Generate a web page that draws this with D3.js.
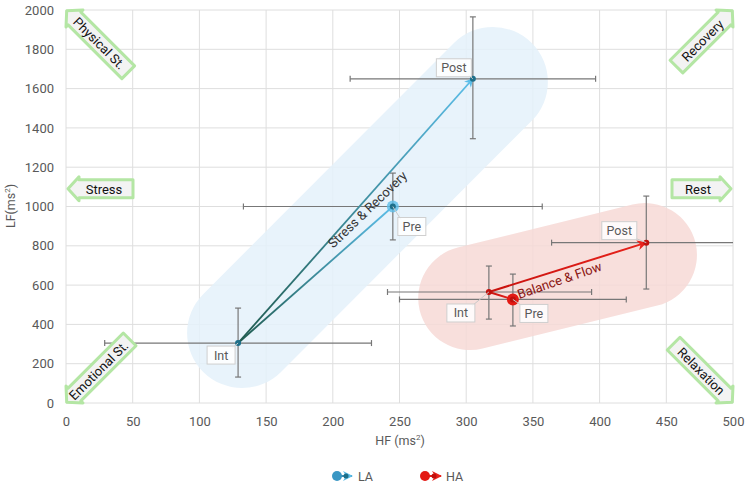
<!DOCTYPE html>
<html>
<head>
<meta charset="utf-8">
<script src="https://cdn.jsdelivr.net/npm/d3@7"></script>
<style>
  body { margin: 0; background: #fff; }
  text { font-family: Roboto, "Noto Sans", sans-serif; }
</style>
</head>
<body>
<svg width="750" height="484"></svg>
<script>
// phases of the study
const phases = ["Pre", "Int", "Post"];

// LA group
const laHF = [245, 129, 305];
const laLF = [1000, 305, 1650];
const laHFErr = [[133, 357], [29, 229], [213, 397]];
const laLFErr = [[830, 1170], [132, 483], [1345, 1965]];

// HA group
const haHF = [335, 317, 435];
const haLF = [527, 565, 816];
const haHFErr = [[250, 420], [241, 394], [364, 510]];
const haLFErr = [[392, 656], [427, 697], [580, 1053]];

// ticks
const xTicks = d3.range(0, 501, 50);
const yTicks = d3.range(0, 2001, 200);

// zones (centre line of the shaded bands, in data units)
const bands = [
  { from: [132, 356], to: [320, 1634], fill: "#e5f2fb", r: 55 },
  { from: [303, 534], to: [434, 753], fill: "#f7dad7", r: 52 }
];

// corner arrows
const corners = [
  { label: "Physical St.", tip: [0, 2000], dir: 45, len: 88, at: 47 },
  { label: "Recovery", tip: [500, 2000], dir: 135, len: 80, at: 43 },
  { label: "Stress", tip: [0, 1090], dir: 0, len: 67, at: 38 },
  { label: "Rest", tip: [500, 1090], dir: 180, len: 61, at: 35 },
  { label: "Emotional St.", tip: [0, 0], dir: -45, len: 90, at: 46 },
  { label: "Relaxation", tip: [500, 0], dir: -135, len: 84, at: 45 }
];

const svg = d3.select("svg");
const x = d3.scaleLinear().domain([0, 500]).range([66, 733]);
const y = d3.scaleLinear().domain([0, 2000]).range([403, 10]);

const defs = svg.append("defs");
defs.append("clipPath").attr("id", "plot")
  .append("rect").attr("x", 66).attr("y", 10).attr("width", 667).attr("height", 393);

// grid
svg.append("g").selectAll("line").data(xTicks).join("line")
  .attr("x1", d => x(d)).attr("x2", d => x(d))
  .attr("y1", y(0)).attr("y2", y(2000))
  .attr("stroke", "#dedede").attr("stroke-width", 1);
svg.append("g").selectAll("line").data(yTicks).join("line")
  .attr("x1", x(0)).attr("x2", x(500))
  .attr("y1", d => y(d)).attr("y2", d => y(d))
  .attr("stroke", "#dedede").attr("stroke-width", 1);

// axes labels
const xAxis = svg.append("g").attr("transform", `translate(0,${y(0)})`)
  .call(d3.axisBottom(x).tickValues(xTicks).tickSize(0).tickPadding(14));
const yAxis = svg.append("g").attr("transform", `translate(${x(0)},0)`)
  .call(d3.axisLeft(y).tickValues(yTicks).tickSize(0).tickPadding(12).tickFormat(d3.format("d")));
[xAxis, yAxis].forEach(a => {
  a.select(".domain").remove();
  a.selectAll("text").attr("font-size", 13).attr("fill", "#595959")
    .style("font-family", "Roboto, sans-serif");
});

const xt = svg.append("text").attr("x", 400).attr("y", 445).attr("text-anchor", "middle")
  .attr("font-size", 12.5).attr("fill", "#595959").text("HF (ms");
xt.append("tspan").attr("font-size", 8).attr("dy", -5).text("2");
xt.append("tspan").attr("dy", 5).text(")");

const yt = svg.append("text").attr("transform", "translate(15,206) rotate(-90)")
  .attr("text-anchor", "middle").attr("font-size", 12.5).attr("fill", "#595959").text("LF(ms");
yt.append("tspan").attr("font-size", 8).attr("dy", -5).text("2");
yt.append("tspan").attr("dy", 5).text(")");

// shaded bands
const plot = svg.append("g").attr("clip-path", "url(#plot)");
plot.selectAll("line.band").data(bands).join("line")
  .attr("class", "band")
  .attr("x1", d => x(d.from[0])).attr("y1", d => y(d.from[1]))
  .attr("x2", d => x(d.to[0])).attr("y2", d => y(d.to[1]))
  .attr("stroke", d => d.fill).attr("stroke-width", d => d.r * 2)
  .attr("stroke-linecap", "round").attr("opacity", 0.85);

// corner arrows
const h = 11;
corners.forEach(c => {
  const g = svg.append("g")
    .attr("transform", `translate(${x(c.tip[0])},${y(c.tip[1])}) rotate(${c.dir})`);
  const L = c.len;
  const inset = Math.abs(c.dir % 90) === 45 ? 1 : 2;
  g.append("path")
    .attr("d", `M${inset},0 L${h + inset},-12 L${h + inset},-9 L${L},-9 L${L},9 L${h + inset},9 L${h + inset},12 Z`)
    .attr("fill", "#f3f3f3").attr("stroke", "#b4e6a4").attr("stroke-width", 3)
    .attr("stroke-linejoin", "round");
  const flip = Math.abs(c.dir) > 90 ? 180 : 0;
  g.append("text")
    .attr("transform", `translate(${c.at},0) rotate(${flip})`)
    .attr("text-anchor", "middle").attr("dy", "0.36em")
    .attr("font-size", 13).attr("fill", "#111").text(c.label);
});

// error bars
function errorBars(hf, lf, hfErr, lfErr) {
  const g = plot.append("g").attr("stroke", "#777").attr("stroke-width", 1.2);
  phases.forEach((p, i) => {
    const cx = x(hf[i]), cy = y(lf[i]);
    const x0 = x(hfErr[i][0]), x1 = x(hfErr[i][1]);
    const y0 = y(lfErr[i][0]), y1 = y(lfErr[i][1]);
    g.append("line").attr("x1", x0).attr("x2", x1).attr("y1", cy).attr("y2", cy);
    g.append("line").attr("x1", cx).attr("x2", cx).attr("y1", y0).attr("y2", y1);
    [x0, x1].forEach(v => g.append("line").attr("x1", v).attr("x2", v).attr("y1", cy - 3).attr("y2", cy + 3));
    [y0, y1].forEach(v => g.append("line").attr("x1", cx - 3).attr("x2", cx + 3).attr("y1", v).attr("y2", v));
  });
}
errorBars(laHF, laLF, laHFErr, laLFErr);
errorBars(haHF, haLF, haHFErr, haLFErr);

// arrow heads
function marker(id, color) {
  defs.append("marker").attr("id", id)
    .attr("viewBox", "0 0 10 10").attr("refX", 9).attr("refY", 5)
    .attr("markerWidth", 5).attr("markerHeight", 5).attr("orient", "auto")
    .append("path").attr("d", "M0,0 L10,5 L0,10 L3,5 Z").attr("fill", color);
}
marker("arrLA", "#5bbde8");
marker("arrHA", "#e8231c");

// gradient segments
function grad(id, p0, p1, c0, c1) {
  const gr = defs.append("linearGradient").attr("id", id)
    .attr("gradientUnits", "userSpaceOnUse")
    .attr("x1", p0[0]).attr("y1", p0[1]).attr("x2", p1[0]).attr("y2", p1[1]);
  gr.append("stop").attr("offset", 0).attr("stop-color", c0);
  gr.append("stop").attr("offset", 1).attr("stop-color", c1);
}

function series(name, hf, lf, c0, c1, w) {
  const pts = phases.map((p, i) => [x(hf[i]), y(lf[i])]);
  grad(name + "g1", pts[0], pts[1], c0, c1);
  grad(name + "g2", pts[1], pts[2], c1, c0);
  const g = svg.append("g");
  g.append("line").attr("x1", pts[0][0]).attr("y1", pts[0][1]).attr("x2", pts[1][0]).attr("y2", pts[1][1])
    .attr("stroke", `url(#${name}g1)`).attr("stroke-width", w);
  g.append("line").attr("x1", pts[1][0]).attr("y1", pts[1][1]).attr("x2", pts[2][0]).attr("y2", pts[2][1])
    .attr("stroke", `url(#${name}g2)`).attr("stroke-width", w)
    .attr("marker-end", `url(#arr${name})`);
  return { g, pts };
}

const la = series("LA", laHF, laLF, "#5bbde8", "#1f5a4e", 1.8);
la.g.append("circle").attr("cx", la.pts[0][0]).attr("cy", la.pts[0][1]).attr("r", 6)
  .attr("fill", "#5bbde8").attr("opacity", 0.8);
la.g.selectAll("circle.m").data(la.pts).join("circle").attr("class", "m")
  .attr("cx", d => d[0]).attr("cy", d => d[1]).attr("r", 3).attr("fill", "#1d6f8a");

const ha = series("HA", haHF, haLF, "#e8231c", "#c8120e", 2);
ha.g.append("circle").attr("cx", ha.pts[0][0]).attr("cy", ha.pts[0][1]).attr("r", 6)
  .attr("fill", "#e31a14");
ha.g.selectAll("circle.m").data(ha.pts).join("circle").attr("class", "m")
  .attr("cx", d => d[0]).attr("cy", d => d[1]).attr("r", 3).attr("fill", "#c0100c");

// zone titles
svg.append("text").attr("transform", `translate(${x(226)},${y(985)}) rotate(-44)`)
  .attr("text-anchor", "middle").attr("dy", "0.35em")
  .attr("font-size", 13).attr("fill", "#333").text("Stress & Recovery");
svg.append("text").attr("transform", `translate(${x(370)},${y(625)}) rotate(-19)`)
  .attr("text-anchor", "middle").attr("dy", "0.35em")
  .attr("font-size", 13).attr("fill", "#8b1512").text("Balance & Flow");

// callout labels (offset of the box centre from the point, px)
const calloutOffsets = {
  LA: [[19, 20], [-17, 12], [-19, -11]],
  HA: [[21, 14], [-28, 21], [-27, -12]]
};
function callouts(name, pts) {
  const g = svg.append("g");
  phases.forEach((p, i) => {
    const [cx, cy] = pts[i];
    const [dx, dy] = calloutOffsets[name][i];
    const bx = cx + dx, by = cy + dy;
    const w = p.length * 7 + 7, hh = 18;
    g.append("line").attr("x1", cx).attr("y1", cy)
      .attr("x2", bx - Math.sign(dx) * (w / 2 - 3)).attr("y2", by - Math.sign(dy) * (hh / 2 - 2))
      .attr("stroke", "#c8c8c8").attr("stroke-width", 1);
    g.append("rect").attr("x", bx - w / 2).attr("y", by - hh / 2).attr("width", w).attr("height", hh)
      .attr("fill", "#fff").attr("fill-opacity", 0.85).attr("stroke", "#cfcfcf");
    g.append("text").attr("x", bx).attr("y", by).attr("dy", "0.36em").attr("text-anchor", "middle")
      .attr("font-size", 12.5).attr("fill", "#595959").text(p);
  });
}
callouts("LA", la.pts);
callouts("HA", ha.pts);

// legend
const leg = svg.append("g").attr("transform", "translate(0,476)");
leg.append("line").attr("x1", 337).attr("x2", 352).attr("y1", 0).attr("y2", 0)
  .attr("stroke", "#3a8fb8").attr("stroke-width", 2).attr("marker-end", "url(#arrLA)");
leg.append("circle").attr("cx", 337).attr("cy", 0).attr("r", 5).attr("fill", "#3a97c4");
leg.append("circle").attr("cx", 346).attr("cy", 0).attr("r", 2.5).attr("fill", "#1d6f8a");
leg.append("text").attr("x", 358).attr("y", 0).attr("dy", "0.36em")
  .attr("font-size", 12.5).attr("fill", "#595959").text("LA");
leg.append("line").attr("x1", 425).attr("x2", 441).attr("y1", 0).attr("y2", 0)
  .attr("stroke", "#e8231c").attr("stroke-width", 2).attr("marker-end", "url(#arrHA)");
leg.append("circle").attr("cx", 425).attr("cy", 0).attr("r", 5).attr("fill", "#e31a14");
leg.append("circle").attr("cx", 434).attr("cy", 0).attr("r", 2.5).attr("fill", "#c0100c");
leg.append("text").attr("x", 446).attr("y", 0).attr("dy", "0.36em")
  .attr("font-size", 12.5).attr("fill", "#595959").text("HA");
</script>
</body>
</html>
